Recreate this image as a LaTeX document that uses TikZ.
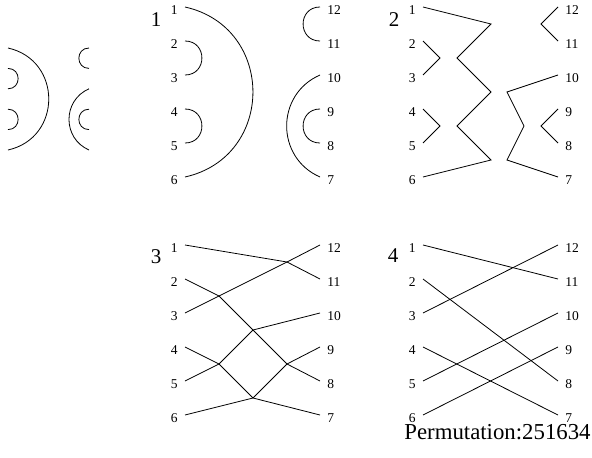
\documentclass[tikz,border=0pt]{standalone}
\usepackage{fontspec}
\setmainfont{Liberation Serif}
\usepackage{tikz}

\tikzset{
  pinno/.style={font=\fontsize{13.5}{16}\selectfont, inner sep=0pt},
  panelno/.style={font=\fontsize{21}{24}\selectfont, inner sep=0pt, anchor=base},
  strand/.style={line width=0.8pt},
  cup/.style={looseness=1.7},
}

\begin{document}
\begin{tikzpicture}[x=1pt, y=-1pt, strand]
    \useasboundingbox (0,0) rectangle (592,458);

    % end points: 1..6 down the left side, 12..7 down the right side
    \foreach \p/\x/\y in {a/185/7, b/423/7, c/185/245, d/423/245} {
      \foreach \i in {1,...,6} {
        \pgfmathtruncatemacro\j{13-\i}
        \coordinate (\p\i) at (\x, \y+34*\i-34);
        \coordinate (\p\j) at (\x+135, \y+34*\i-34);
        \node[pinno, anchor=base east] (t\p\i) at (\x-7, \y+34*\i-27) {\i};
        \node[pinno, anchor=base west] (t\p\j) at (\x+142, \y+34*\i-27) {\j};
      }
    }
    % small copy of panel 1, cut by the left edge
    \begin{scope}[shift={(8,48)}, scale=0.6]
      \foreach \i in {1,...,6} {
        \pgfmathtruncatemacro\j{13-\i}
        \coordinate (m\i) at (0, 34*\i-34);
        \coordinate (m\j) at (135, 34*\i-34);
      }
    \end{scope}

    \node[panelno] (n1) at (156,26) {1};
    \node[panelno] (n2) at (394,26) {2};
    \node[panelno] (n3) at (156,263) {3};
    \node[panelno] (n4) at (393,262) {4};

    % panel 1 and its small copy: nested arcs
    \foreach \p in {a,m} {
      \draw (\p1) to[out=-12.6, in=12.6, looseness=1.4] (\p6);
      \draw (\p2) to[out=0, in=0, cup] (\p3);
      \draw (\p4) to[out=0, in=0, cup] (\p5);
      \draw (\p12) to[out=180, in=180, cup] (\p11);
      \draw (\p10) to[out=203.6, in=156.4, looseness=1.22] (\p7);
      \draw (\p9) to[out=180, in=180, cup] (\p8);
    }

    % panel 2: zigzags
    \draw (b1) -- ++(68,17) -- ++(-34,34) -- ++(34,34) -- ++(-34,34) -- ++(34,34) -- (b6);
    \draw (b2) -- ++(17,17) -- (b3);
    \draw (b4) -- ++(17,17) -- (b5);
    \draw (b12) -- ++(-17,17) -- (b11);
    \draw (b10) -- ++(-51,17) -- ++(17,34) -- ++(-17,34) -- (b7);
    \draw (b9) -- ++(-17,17) -- (b8);

    % panel 3: crossings
    \coordinate (x1) at (287,262);
    \coordinate (x2) at (219,296);
    \coordinate (x3) at (253,330);
    \coordinate (x4) at (219,364);
    \coordinate (x5) at (287,364);
    \coordinate (x6) at (253,398);
    \draw (c1) -- (x1) -- (c11);
    \draw (c12) -- (x1) -- (x2) -- (c3);
    \draw (c2) -- (x2) -- (x3) -- (x5) -- (c8);
    \draw (c10) -- (x3) -- (x4) -- (c5);
    \draw (c4) -- (x4) -- (x6) -- (c7);
    \draw (c9) -- (x5) -- (x6) -- (c6);

    % panel 4: straight strands
    \foreach \s/\t in {1/11, 2/8, 3/12, 4/7, 5/10, 6/9}
      \draw (d\s) -- (d\t);

    \node[font=\fontsize{22.8}{26}\selectfont, inner sep=0pt, anchor=base east] (perm) at (591,439) {Permutation:251634};
\end{tikzpicture}
\end{document}
